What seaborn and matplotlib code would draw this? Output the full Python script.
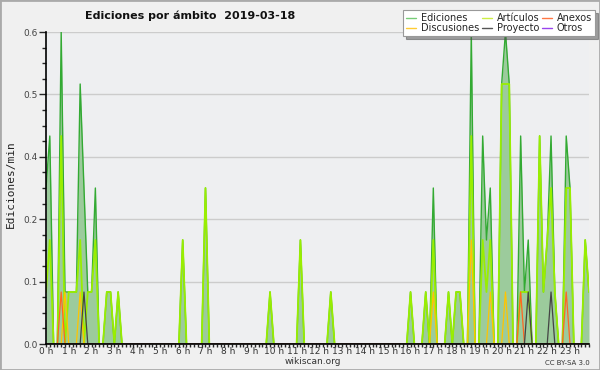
import numpy as np
import pandas as pd
import matplotlib
matplotlib.use("Agg")
import matplotlib.pyplot as plt
from matplotlib.lines import Line2D
from matplotlib.patches import Rectangle
from matplotlib.ticker import MultipleLocator, FormatStrFormatter
import seaborn as sns

# 10-minute slots over the day (0 .. 143), only non-zero slots are listed
n_slots = 144
hour_labels = [f"{h} h" for h in range(24)]

ediciones_slots = [0, 1, 4, 5, 6, 7, 8, 9, 10, 11, 12, 13, 16, 17, 19,
                   36, 42, 59, 67, 75,
                   96, 100, 102, 106, 108, 109,
                   112, 115, 116, 117, 120, 121, 122, 125, 126, 127,
                   130, 131, 132, 133, 134, 137, 138, 142, 143]
ediciones_vals = [0.3, 0.4, 0.6, 0.1, 0.1, 0.1, 0.1, 0.5, 0.3, 0.1, 0.1, 0.3, 0.1, 0.1, 0.1,
                  0.2, 0.3, 0.1, 0.2, 0.1,
                  0.1, 0.1, 0.3, 0.1, 0.1, 0.1,
                  0.6, 0.4, 0.2, 0.3, 0.5, 0.6, 0.5, 0.4, 0.1, 0.2,
                  0.4, 0.1, 0.2, 0.4, 0.1, 0.4, 0.3, 0.2, 0.1]

articulos_slots = [0, 1, 4, 6, 7, 8, 9, 11, 12, 13, 16, 17, 19,
                   36, 42, 59, 67, 75,
                   96, 100, 102, 106, 108, 109,
                   112, 115, 116, 117, 120, 121, 122, 125, 126, 127,
                   130, 131, 132, 133, 134, 137, 138, 142, 143]
articulos_vals = [0.1, 0.2, 0.4, 0.1, 0.1, 0.1, 0.2, 0.1, 0.1, 0.2, 0.1, 0.1, 0.1,
                  0.2, 0.3, 0.1, 0.2, 0.1,
                  0.1, 0.1, 0.2, 0.1, 0.1, 0.1,
                  0.4, 0.2, 0.1, 0.2, 0.5, 0.5, 0.5, 0.1, 0.1, 0.1,
                  0.4, 0.1, 0.2, 0.3, 0.1, 0.3, 0.3, 0.2, 0.1]

discusiones_slots = [5, 9, 102, 112, 117, 121]
discusiones_vals = [0.1, 0.1, 0.1, 0.2, 0.1, 0.1]

anexos_slots = [4, 125, 137]
anexos_vals = [0.1, 0.1, 0.1]

proyecto_slots = [10, 127, 133]
proyecto_vals = [0.1, 0.1, 0.1]

otros_slots = []
otros_vals = []

colors = {
    "Ediciones": "#33aa33",
    "Artículos": "#99ee00",
    "Anexos": "#ff6622",
    "Discusiones": "#ffc400",
    "Proyecto": "#444444",
    "Otros": "#9944ee",
}
legend_colors = {
    "Ediciones": "#77cc77",
    "Artículos": "#ccee44",
    "Anexos": "#ff7744",
    "Discusiones": "#ffcc33",
    "Proyecto": "#555555",
    "Otros": "#9944ee",
}


def build_series(slots, vals) -> np.ndarray:
    arr = np.zeros(n_slots)
    arr[slots] = vals
    return arr


def main():
    sns.set_style("white")
    plt.rcParams["font.family"] = ["DejaVu Sans"]

    hours = np.arange(n_slots) / 6.0
    series = {
        "Ediciones": build_series(ediciones_slots, ediciones_vals),
        "Artículos": build_series(articulos_slots, articulos_vals),
        "Discusiones": build_series(discusiones_slots, discusiones_vals),
        "Anexos": build_series(anexos_slots, anexos_vals),
        "Proyecto": build_series(proyecto_slots, proyecto_vals),
        "Otros": build_series(otros_slots, otros_vals),
    }
    df = pd.concat([pd.DataFrame({"hora": hours, "valor": v, "ambito": k}) for k, v in series.items()],
                   ignore_index=True)

    fig = plt.figure(figsize=(6, 3.7), dpi=100, facecolor="#f0f0f0")
    ax = fig.add_axes([46 / 600, 26 / 370, 543 / 600, 312 / 370])
    ax.set_facecolor("#eeeff1")

    ax.fill_between(hours, series["Ediciones"], color="#9ccb9c", lw=0, zorder=1)
    widths = {"Ediciones": 1.0, "Artículos": 1.3}
    for name in ["Ediciones", "Artículos", "Discusiones", "Anexos", "Proyecto", "Otros"]:
        sns.lineplot(data=df[df["ambito"] == name], x="hora", y="valor", color=colors[name],
                     lw=widths.get(name, 0.9), ax=ax, legend=False, zorder=2)

    ax.set_xlim(0, hours[-1])
    ax.set_ylim(0, 0.6)
    ax.set_xlabel("")
    ax.set_ylabel("")

    ax.set_xticks(range(24))
    ax.set_xticklabels(hour_labels)
    ax.xaxis.set_minor_locator(MultipleLocator(1 / 6))
    ax.yaxis.set_major_locator(MultipleLocator(0.12))
    ax.yaxis.set_major_formatter(FormatStrFormatter("%.1f"))
    ax.yaxis.set_minor_locator(MultipleLocator(0.03))

    ax.tick_params(axis="x", which="both", bottom=True, length=2.5, width=1, direction="out",
                   labelsize=6.5, pad=0, labelcolor="#333333")
    ax.tick_params(axis="y", which="major", left=True, length=5, width=1, direction="out",
                   labelsize=6.5, pad=1, labelcolor="#444444")
    ax.tick_params(axis="y", which="minor", left=True, length=3, width=1, direction="out")

    ax.yaxis.grid(True, color="#cccccc", lw=1)
    ax.xaxis.grid(False)
    ax.set_axisbelow(True)
    for side in ["top", "right"]:
        ax.spines[side].set_visible(False)
    for side in ["left", "bottom"]:
        ax.spines[side].set_color("black")
        ax.spines[side].set_linewidth(1.2)
        ax.spines[side].set_zorder(3)

    order = ["Ediciones", "Discusiones", "Artículos", "Proyecto", "Anexos", "Otros"]
    handles = [Line2D([], [], color=legend_colors[n], lw=1) for n in order]
    leg = fig.legend(handles, order, loc="upper right", bbox_to_anchor=(595 / 600, 1 - 10 / 370), ncol=3,
                     fontsize=7, frameon=True, fancybox=False, shadow=True, facecolor="white",
                     edgecolor="#999999", handlelength=1.0, handletextpad=0.5, columnspacing=0.3,
                     labelspacing=0.05, borderpad=0.3, borderaxespad=0)
    leg.get_frame().set_linewidth(0.8)

    fig.text(85 / 600, 1 - 16 / 370, "Ediciones por ámbito  2019-03-18", fontsize=8,
             fontweight="bold", ha="left", va="center", color="#111111")
    fig.text(11 / 600, 1 - 184 / 370, "Ediciones/min", rotation=90, fontsize=8, ha="center",
             va="center", family=["DejaVu Sans Mono"], color="#222222")
    fig.text(313 / 600, 1 - 362 / 370, "wikiscan.org", fontsize=6.5, ha="center", va="center",
             color="#333333")
    fig.text(590 / 600, 1 - 363 / 370, "CC BY-SA 3.0", fontsize=5, ha="right", va="center",
             color="#333333")
    fig.patches.append(Rectangle((0, 0), 1, 1, transform=fig.transFigure, fill=False,
                                 edgecolor="#aaaaaa", lw=2))

    fig.savefig("out.png", dpi=100, facecolor=fig.get_facecolor())
    plt.close(fig)


if __name__ == "__main__":
    main()
